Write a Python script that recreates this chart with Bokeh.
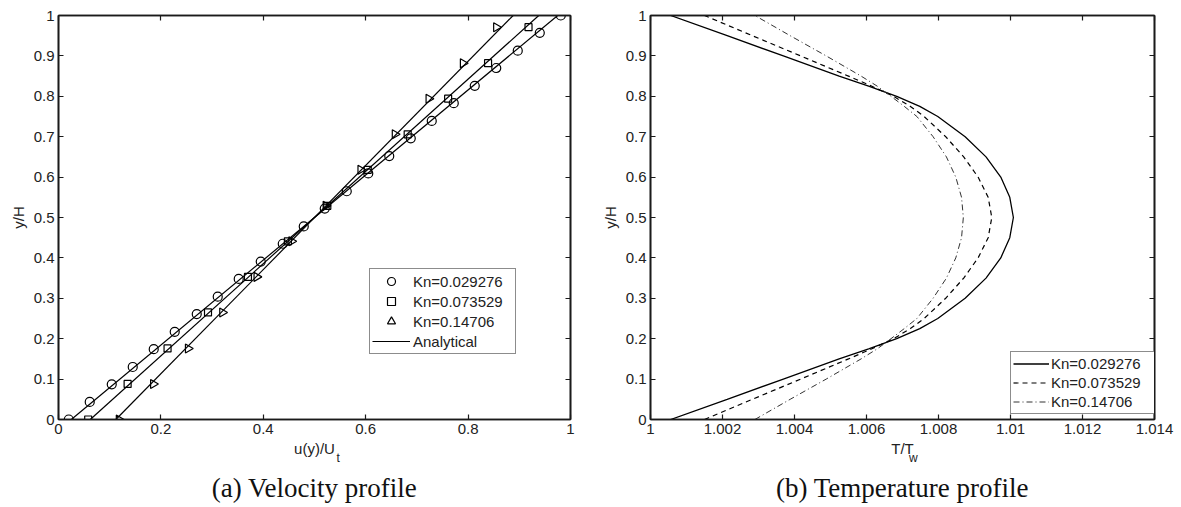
import numpy as np
from bokeh.plotting import figure
from bokeh.layouts import row
from bokeh.models import (Range1d, LinearAxis, FixedTicker, Legend, LegendItem,
                          Title)
from bokeh.embed import file_html
from bokeh.resources import INLINE

# ---------------- velocity profile data ----------------
kn_labels = ["Kn=0.029276", "Kn=0.073529", "Kn=0.14706"]

y_circ = [0.0, 0.0435, 0.087, 0.130, 0.174, 0.217, 0.261, 0.304, 0.348, 0.391,
          0.435, 0.478, 0.522, 0.565, 0.609, 0.652, 0.696, 0.739, 0.783, 0.826,
          0.870, 0.913, 0.957, 1.0]
u_circ = [0.020, 0.061, 0.104, 0.145, 0.186, 0.227, 0.270, 0.311, 0.352, 0.395,
          0.438, 0.479, 0.520, 0.563, 0.605, 0.646, 0.688, 0.729, 0.772, 0.813,
          0.855, 0.897, 0.940, 0.981]

y_sq = [0.0, 0.088, 0.176, 0.265, 0.353, 0.441, 0.529, 0.618, 0.706, 0.794,
        0.882, 0.971]
u_sq = [0.058, 0.135, 0.213, 0.292, 0.370, 0.448, 0.525, 0.604, 0.682, 0.761,
        0.839, 0.918]

y_tri = [0.0, 0.088, 0.176, 0.265, 0.353, 0.441, 0.529, 0.618, 0.706, 0.794,
         0.882, 0.971]
u_tri = [0.118, 0.185, 0.253, 0.320, 0.387, 0.455, 0.522, 0.590, 0.657, 0.723,
         0.790, 0.855]

# analytical slip solution: velocity at the lower (y=0) and upper (y=1) wall
y_walls = [0.0, 1.0]
u_lower = [0.025, 0.062, 0.112]
u_upper = [0.975, 0.938, 0.888]

# ---------------- temperature profile data ----------------
y_temp = [0.0, 0.05, 0.10, 0.15, 0.175, 0.20, 0.225, 0.25, 0.30, 0.35, 0.40,
          0.45, 0.50, 0.55, 0.60, 0.65, 0.70, 0.75, 0.775, 0.80, 0.825, 0.85,
          0.90, 0.95, 1.0]
T_kn1 = [1.00056, 1.00213, 1.00369, 1.00524, 1.00606, 1.00684, 1.00748, 1.00798,
         1.00874, 1.00932, 1.00973, 1.00998, 1.01008, 1.00998, 1.00973, 1.00932,
         1.00874, 1.00798, 1.00748, 1.00684, 1.00606, 1.00524, 1.00369, 1.00213,
         1.00056]
T_kn2 = [1.00150, 1.00283, 1.00417, 1.00550, 1.00615, 1.00675, 1.00722, 1.00760,
         1.00820, 1.00870, 1.00910, 1.00938, 1.00948, 1.00938, 1.00910, 1.00870,
         1.00820, 1.00760, 1.00722, 1.00675, 1.00615, 1.00550, 1.00417, 1.00283,
         1.00150]
T_kn3 = [1.00290, 1.00388, 1.00488, 1.00585, 1.00630, 1.00668, 1.00705, 1.00740,
         1.00785, 1.00822, 1.00848, 1.00864, 1.00869, 1.00864, 1.00848, 1.00822,
         1.00785, 1.00740, 1.00705, 1.00668, 1.00630, 1.00585, 1.00488, 1.00388,
         1.00290]

# ---------------- ticks ----------------
u_ticks = [0, 0.2, 0.4, 0.6, 0.8, 1]
u_tick_labels = ["0", "0.2", "0.4", "0.6", "0.8", "1"]
T_ticks = [1, 1.002, 1.004, 1.006, 1.008, 1.01, 1.012, 1.014]
T_tick_labels = ["1", "1.002", "1.004", "1.006", "1.008", "1.01", "1.012", "1.014"]
y_ticks = [0, 0.1, 0.2, 0.3, 0.4, 0.5, 0.6, 0.7, 0.8, 0.9, 1]
y_tick_labels = ["0", "0.1", "0.2", "0.3", "0.4", "0.5", "0.6", "0.7", "0.8", "0.9", "1"]

SANS = "Liberation Sans"
SERIF = "Liberation Serif"
INK = "#1a1a1a"
TXT = "#222222"


def style_axis(ax, ticks, labels, show_labels=True):
    ax.ticker = FixedTicker(ticks=ticks)
    ax.major_label_overrides = {t: (l if show_labels else "") for t, l in zip(ticks, labels)}
    ax.minor_tick_line_color = None
    ax.major_tick_in = 5
    ax.major_tick_out = 0
    ax.major_tick_line_color = INK
    ax.major_tick_line_width = 1.2
    ax.axis_line_color = INK
    ax.axis_line_width = 1.6
    ax.major_label_text_font = SANS
    ax.major_label_text_font_size = "15px"
    ax.major_label_text_color = TXT
    ax.major_label_standoff = 4 if show_labels else 0


def style_label(ax, text):
    ax.axis_label = text
    ax.axis_label_text_font = SANS
    ax.axis_label_text_font_style = "normal"
    ax.axis_label_text_font_size = "15px"
    ax.axis_label_text_color = TXT
    ax.axis_label_standoff = 3


def make_fig(width, left, right, xr, xticks, xlabels, xlabel):
    p = figure(width=width, height=507, x_range=Range1d(*xr), y_range=Range1d(0, 1),
               output_backend="svg", toolbar_location=None,
               min_border_left=left, min_border_right=right,
               min_border_top=15, min_border_bottom=88)
    p.grid.visible = False
    p.outline_line_color = INK
    p.outline_line_width = 1.6
    style_axis(p.xaxis[0], xticks, xlabels)
    style_axis(p.yaxis[0], y_ticks, y_tick_labels)
    style_label(p.xaxis[0], xlabel)
    style_label(p.yaxis[0], "y/H")
    p.yaxis[0].axis_label_standoff = 4
    top = LinearAxis()
    style_axis(top, xticks, xlabels, show_labels=False)
    p.add_layout(top, "above")
    rgt = LinearAxis()
    style_axis(rgt, y_ticks, y_tick_labels, show_labels=False)
    p.add_layout(rgt, "right")
    return p


def add_subscript(p, text, x_at):
    # a tick-less axis carrying one label, pulled up next to the x-axis label
    sub = LinearAxis(ticker=FixedTicker(ticks=[x_at]),
                     major_label_overrides={x_at: text})
    sub.major_tick_line_color = None
    sub.minor_tick_line_color = None
    sub.axis_line_color = None
    sub.major_label_text_font = SANS
    sub.major_label_text_font_size = "12px"
    sub.major_label_text_color = TXT
    sub.major_label_standoff = -15
    p.add_layout(sub, "below")


def add_caption(p, text):
    p.add_layout(Title(text=text, align="center", standoff=7,
                       text_font=SERIF, text_font_size="27px",
                       text_font_style="normal", text_color="#111111"), "below")


def style_legend(leg):
    leg.border_line_color = INK
    leg.border_line_width = 1
    leg.background_fill_color = "white"
    leg.background_fill_alpha = 1
    leg.label_text_font = SANS
    leg.label_text_font_size = "15px"
    leg.label_text_color = TXT
    leg.spacing = 0
    leg.margin = 0
    leg.padding = 2


# ---------------- (a) velocity profile ----------------
p1 = make_fig(598, 58, 28, (0, 1), u_ticks, u_tick_labels, "u(y)/U")

lines = []
for lo, hi in zip(u_lower, u_upper):
    lines.append(p1.line([lo, hi], y_walls, line_color="black", line_width=1.2))

r_c = p1.scatter(u_circ, y_circ, marker="circle", size=9, fill_color=None,
                 line_color="black", line_width=1.2)
r_s = p1.scatter(u_sq, y_sq, marker="square", size=7, fill_color=None,
                 line_color="black", line_width=1.2)
r_t = p1.scatter(u_tri, y_tri, marker="triangle", size=9, angle=-np.pi / 2,
                 fill_color=None, line_color="black", line_width=1.2)

leg1 = Legend(items=[LegendItem(label=kn_labels[0], renderers=[r_c]),
                     LegendItem(label=kn_labels[1], renderers=[r_s]),
                     LegendItem(label=kn_labels[2], renderers=[r_t]),
                     LegendItem(label="Analytical", renderers=[lines[0]])],
              location=(311, 65))
style_legend(leg1)
leg1.label_height = 20
leg1.glyph_height = 20
leg1.glyph_width = 38
leg1.label_standoff = 3
leg1.label_width = 100
p1.add_layout(leg1)

add_subscript(p1, "t", 0.546)
add_caption(p1, "(a) Velocity profile")

# ---------------- (b) temperature profile ----------------
p2 = make_fig(583, 46, 27, (1, 1.014), T_ticks, T_tick_labels, "T/T")

r1 = p2.line(T_kn1, y_temp, line_color="black", line_width=1.3)
r2 = p2.line(T_kn2, y_temp, line_color="black", line_width=1.2, line_dash="5 4")
r3 = p2.line(T_kn3, y_temp, line_color="#333333", line_width=1.0, line_dash="6 3 1 3")

leg2 = Legend(items=[LegendItem(label=kn_labels[0], renderers=[r1]),
                     LegendItem(label=kn_labels[1], renderers=[r2]),
                     LegendItem(label=kn_labels[2], renderers=[r3])],
              location=(360, 5))
style_legend(leg2)
leg2.label_height = 19
leg2.glyph_height = 19
leg2.glyph_width = 36
leg2.label_standoff = 2
leg2.label_width = 106
p2.add_layout(leg2)

add_subscript(p2, "w", 1.0073)
add_caption(p2, "(b) Temperature profile")

layout = row(p1, p2)
open("out.html", "w").write(file_html(layout, INLINE))
